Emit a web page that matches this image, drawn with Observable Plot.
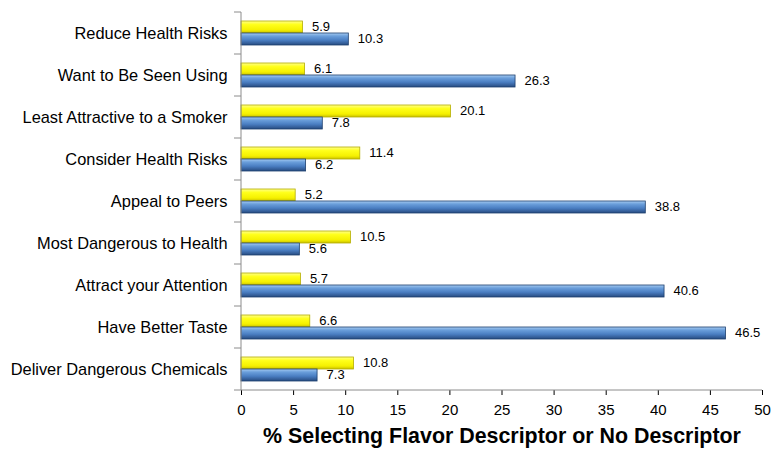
<!DOCTYPE html>
<html>
<head>
<meta charset="utf-8">
<script src="https://cdn.jsdelivr.net/npm/d3@7"></script>
<script src="https://cdn.jsdelivr.net/npm/@observablehq/plot@0.6"></script>
<style>
  html, body { margin: 0; padding: 0; background: #fff; }
  #chart { width: 771px; height: 450px; }
</style>
</head>
<body>
<div id="chart"></div>
<script>
const categories = [
  "Reduce Health Risks",
  "Want to Be Seen Using",
  "Least Attractive to a Smoker",
  "Consider Health Risks",
  "Appeal to Peers",
  "Most Dangerous to Health",
  "Attract your Attention",
  "Have Better Taste",
  "Deliver Dangerous Chemicals"
];
const series = ["Flavor Descriptor", "No Descriptor"];
const flavorValues = [5.9, 6.1, 20.1, 11.4, 5.2, 10.5, 5.7, 6.6, 10.8];
const noDescValues = [10.3, 26.3, 7.8, 6.2, 38.8, 5.6, 40.6, 46.5, 7.3];
const xTicks = [0, 5, 10, 15, 20, 25, 30, 35, 40, 45, 50];
const xLabel = "% Selecting Flavor Descriptor or No Descriptor";

const data = categories.flatMap((c, i) => [
  {category: c, series: series[0], value: flavorValues[i]},
  {category: c, series: series[1], value: noDescValues[i]}
]);
const flavorData = data.filter(d => d.series === series[0]);
const noDescData = data.filter(d => d.series === series[1]);

const font = "'Liberation Sans', Arial, Helvetica, sans-serif";

const plot = Plot.plot({
  width: 771,
  height: 450,
  marginLeft: 241,
  marginRight: 9,
  marginTop: 10,
  marginBottom: 58.5,
  style: {fontFamily: font, fontSize: "15px", color: "#000", background: "#fff", overflow: "visible"},
  x: {domain: [0, 50], ticks: xTicks, tickFormat: d => String(d), label: xLabel, labelAnchor: "center", labelArrow: "none", labelOffset: 52, tickSize: 5, tickPadding: 9},
  fy: {domain: categories, padding: 0, label: null, tickSize: 0, tickPadding: 14},
  y: {domain: series, paddingInner: 0, paddingOuter: 0.7, axis: null},
  marks: [
    Plot.barX(flavorData, {x: "value", y: "series", fy: "category", fill: "url(#gradYellow)", stroke: "#b5ad00", strokeWidth: 0.8}),
    Plot.barX(noDescData, {x: "value", y: "series", fy: "category", fill: "url(#gradBlue)", stroke: "#1d3f6e", strokeWidth: 0.8}),
    Plot.text(data, {x: "value", y: "series", fy: "category", text: d => d.value.toFixed(1), dx: 9, dy: -1, textAnchor: "start", fontSize: 13, fill: "#000"})
  ]
});

document.getElementById("chart").appendChild(plot);

const svg = d3.select(plot);
svg.insert("defs", ":first-child").html(`
  <linearGradient id="gradBlue" x1="0" y1="0" x2="0" y2="1">
    <stop offset="0" stop-color="#a9cdf2"/>
    <stop offset="0.25" stop-color="#6b9fdb"/>
    <stop offset="0.6" stop-color="#4a7ec2"/>
    <stop offset="1" stop-color="#274b80"/>
  </linearGradient>
  <linearGradient id="gradYellow" x1="0" y1="0" x2="0" y2="1">
    <stop offset="0" stop-color="#ffff8a"/>
    <stop offset="0.3" stop-color="#ffff1a"/>
    <stop offset="0.75" stop-color="#f5f000"/>
    <stop offset="1" stop-color="#c9c000"/>
  </linearGradient>
`);

// category labels (fy axis) styling
svg.selectAll('g[aria-label="fy-axis tick label"]').attr("font-size", "16.4px");
svg.selectAll('g[aria-label="fy-axis tick label"] text').attr("font-size", "16.4px");

// axis label styling
svg.selectAll('g[aria-label="x-axis label"] text')
  .attr("font-weight", "bold").attr("font-size", "21.4px");

// axis lines and group boundary ticks derived from the scales
const xs = plot.scale("x");
const fys = plot.scale("fy");
const xZero = xs.apply(0);
const xEnd = xs.apply(50);
const yTop = fys.apply(categories[0]);
const yBottom = fys.apply(categories[categories.length - 1]) + fys.bandwidth;
const axisG = svg.append("g").attr("stroke", "#8c8c8c").attr("stroke-width", 1);
axisG.append("line").attr("x1", xZero).attr("x2", xZero).attr("y1", yTop).attr("y2", yBottom);
axisG.append("line").attr("x1", xZero).attr("x2", xEnd).attr("y1", yBottom).attr("y2", yBottom);
categories.forEach(c => {
  const yb = fys.apply(c);
  axisG.append("line").attr("x1", xZero - 7).attr("x2", xZero).attr("y1", yb).attr("y2", yb);
});
axisG.append("line").attr("x1", xZero - 7).attr("x2", xZero).attr("y1", yBottom).attr("y2", yBottom);
svg.selectAll('g[aria-label="x-axis tick"]').attr("stroke", "#8c8c8c");
</script>
</body>
</html>
